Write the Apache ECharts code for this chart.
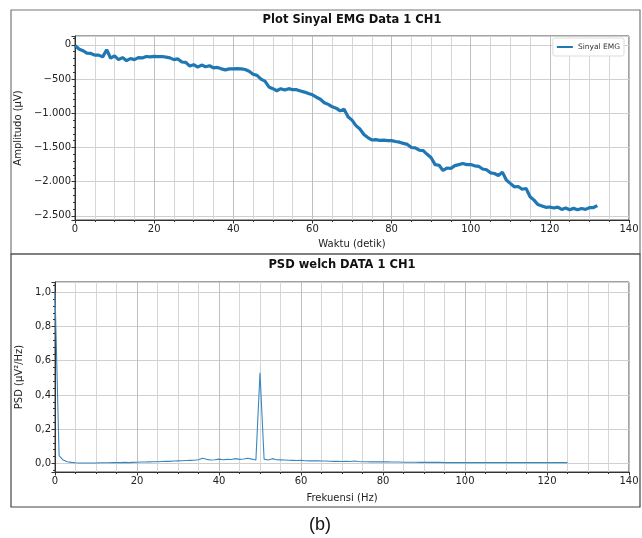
<!DOCTYPE html>
<html>
<head>
<meta charset="utf-8">
<style>
  html, body { margin: 0; padding: 0; background: #fff; }
  #chart { width: 642px; height: 538px; }
</style>
<script src="https://cdn.jsdelivr.net/npm/echarts@6/dist/echarts.min.js"></script>
</head>
<body>
<div id="chart"></div>
<script>
// sinyal EMG, satu sampel per detik (0..132 s)
const emgStep = 1
const emgValues = [
  -10, -60, -85, -120, -125, -150, -150, -175, -70, -195,
  -160, -215, -185, -230, -200, -215, -185, -190, -170, -175,
  -168, -172, -170, -178, -190, -215, -205, -250, -255, -310,
  -290, -325, -295, -320, -305, -335, -330, -350, -365, -350,
  -352, -348, -350, -360, -385, -430, -445, -500, -530, -615,
  -640, -670, -640, -660, -640, -655, -655, -675, -690, -712,
  -730, -765, -795, -845, -870, -905, -925, -965, -940, -1050,
  -1100, -1180, -1230, -1310, -1355, -1390, -1385, -1395, -1392, -1400,
  -1400, -1412, -1422, -1440, -1455, -1500, -1505, -1540, -1545, -1600,
  -1650, -1750, -1760, -1835, -1800, -1805, -1765, -1750, -1735, -1750,
  -1750, -1768, -1775, -1815, -1825, -1870, -1880, -1910, -1860, -1975,
  -2025, -2075, -2070, -2110, -2100, -2220, -2270, -2335, -2355, -2375,
  -2370, -2385, -2372, -2405, -2385, -2410, -2390, -2410, -2392, -2405,
  -2380, -2378, -2350
]

// PSD welch, resolusi 1 Hz (0..125 Hz)
const psdStep = 1
const psdValues = [
  1.0, 0.045, 0.02, 0.01, 0.006, 0.004, 0.003, 0.003, 0.003, 0.003,
  0.003, 0.004, 0.004, 0.004, 0.005, 0.005, 0.005, 0.006, 0.005, 0.006,
  0.007, 0.008, 0.008, 0.009, 0.01, 0.01, 0.011, 0.012, 0.012, 0.014,
  0.015, 0.016, 0.017, 0.018, 0.019, 0.022, 0.03, 0.024, 0.02, 0.022,
  0.025, 0.022, 0.024, 0.023, 0.028, 0.024, 0.026, 0.03, 0.025, 0.02,
  0.53, 0.025, 0.02, 0.028, 0.022, 0.021, 0.02, 0.019, 0.018, 0.017,
  0.018, 0.016, 0.015, 0.016, 0.015, 0.014, 0.014, 0.013, 0.012, 0.012,
  0.011, 0.012, 0.011, 0.014, 0.011, 0.01, 0.01, 0.009, 0.009, 0.01,
  0.009, 0.01, 0.008, 0.008, 0.008, 0.007, 0.007, 0.007, 0.007, 0.006,
  0.006, 0.006, 0.006, 0.006, 0.006, 0.005, 0.005, 0.005, 0.005, 0.005,
  0.005, 0.005, 0.005, 0.005, 0.005, 0.005, 0.005, 0.005, 0.005, 0.005,
  0.005, 0.005, 0.005, 0.005, 0.005, 0.005, 0.005, 0.005, 0.005, 0.005,
  0.005, 0.005, 0.005, 0.005, 0.005, 0.005
]

const font = 'DejaVu Sans'
const blue = '#1f77b4'

function fmtThousand(v) {
  const s = String(Math.abs(Math.round(v))).replace(/\B(?=(\d{3})+(?!\d))/g, '.')
  return (v < 0 ? '\u2212' : '') + s
}
function fmtDec(v) {
  return v.toFixed(1).replace('.', ',')
}

const emgData = emgValues.map((v, i) => [i * emgStep, v])
const psdData = psdValues.map((v, i) => [i * psdStep, v])

function xAxisCfg(gridIndex, name, gap) {
  return {
    type: 'value', gridIndex, min: 0, max: 140, interval: 20,
    name, nameLocation: 'middle', nameGap: gap,
    nameTextStyle: { fontFamily: font, fontSize: 10, color: '#222' },
    axisLine: { show: true, onZero: false, lineStyle: { color: '#333', width: 1 } },
    axisTick: { show: true, length: 3.5, lineStyle: { color: '#333' } },
    minorTick: { show: true, splitNumber: 4, length: 2, lineStyle: { color: '#333' } },
    axisLabel: { fontFamily: font, fontSize: 10, color: '#222', margin: 4 },
    splitLine: { show: true, lineStyle: { color: '#c0c0c0', width: 1 } },
    minorSplitLine: { show: true, lineStyle: { color: '#d6d6d6', width: 1 } }
  }
}

function yAxisCfg(gridIndex, name, gap, min, max, fmt) {
  return {
    type: 'value', gridIndex, min, max, splitNumber: 5,
    name, nameLocation: 'middle', nameGap: gap,
    nameTextStyle: { fontFamily: font, fontSize: 10, color: '#222' },
    axisLine: { show: true, onZero: false, lineStyle: { color: '#333', width: 1 } },
    axisTick: { show: true, length: 3.5, lineStyle: { color: '#333' } },
    minorTick: { show: true, splitNumber: 5, length: 2, lineStyle: { color: '#333' } },
    axisLabel: { fontFamily: font, fontSize: 10, color: '#222', margin: 4,
      showMinLabel: false, showMaxLabel: false, formatter: fmt },
    splitLine: { show: true, lineStyle: { color: '#d0d0d0', width: 1 } }
  }
}

const chart = echarts.init(document.getElementById('chart'), null, { renderer: 'canvas' })

chart.setOption({
  animation: false,
  backgroundColor: '#fff',
  legend: {
    data: ['Sinyal EMG'], right: 18, top: 38, orient: 'vertical',
    itemWidth: 16, itemHeight: 2, itemGap: 4, padding: [5, 4, 5, 4],
    backgroundColor: '#fff', borderColor: '#ddd', borderWidth: 1, borderRadius: 2,
    textStyle: { fontFamily: font, fontSize: 7.5, color: '#333' },
    icon: 'rect'
  },
  grid: [
    { left: 75, right: 13, top: 36, height: 184, show: true, borderColor: '#444', borderWidth: 1, backgroundColor: 'transparent' },
    { left: 55, right: 13, top: 282, height: 190, show: true, borderColor: '#444', borderWidth: 1, backgroundColor: 'transparent' }
  ],
  xAxis: [
    xAxisCfg(0, 'Waktu (detik)', 19),
    xAxisCfg(1, 'Frekuensi (Hz)', 21)
  ],
  yAxis: [
    yAxisCfg(0, 'Amplitudo (\u00b5V)', 46, -2560, 130, fmtThousand),
    yAxisCfg(1, 'PSD (\u00b5V\u00b2/Hz)', 27, -0.05, 1.06, fmtDec)
  ],
  series: [
    { name: 'Sinyal EMG', type: 'line', xAxisIndex: 0, yAxisIndex: 0, data: emgData,
      showSymbol: false, color: blue, lineStyle: { width: 3.2, color: blue } },
    { name: 'PSD', type: 'line', xAxisIndex: 1, yAxisIndex: 1, data: psdData,
      showSymbol: false, color: blue, lineStyle: { width: 1.1, color: '#3a87c0' } }
  ],
  graphic: [
    { type: 'rect', shape: { x: 11, y: 10, width: 629, height: 244 },
      style: { fill: 'none', stroke: '#777', lineWidth: 1.2 }, z: -1 },
    { type: 'rect', shape: { x: 11, y: 254, width: 629, height: 253 },
      style: { fill: 'none', stroke: '#444', lineWidth: 1.2 }, z: -1 },
    { type: 'text', x: 352, y: 20,
      style: { text: 'Plot Sinyal EMG Data 1 CH1', fontFamily: font, fontSize: 11.5, fontWeight: 'bold',
        fill: '#111', align: 'center', verticalAlign: 'middle' } },
    { type: 'text', x: 342, y: 265,
      style: { text: 'PSD welch DATA 1 CH1', fontFamily: font, fontSize: 11.5, fontWeight: 'bold',
        fill: '#111', align: 'center', verticalAlign: 'middle' } },
    { type: 'text', x: 320, y: 525,
      style: { text: '(b)', fontFamily: 'Liberation Sans', fontSize: 18, fill: '#111',
        align: 'center', verticalAlign: 'middle' } }
  ]
})
</script>
</body>
</html>
